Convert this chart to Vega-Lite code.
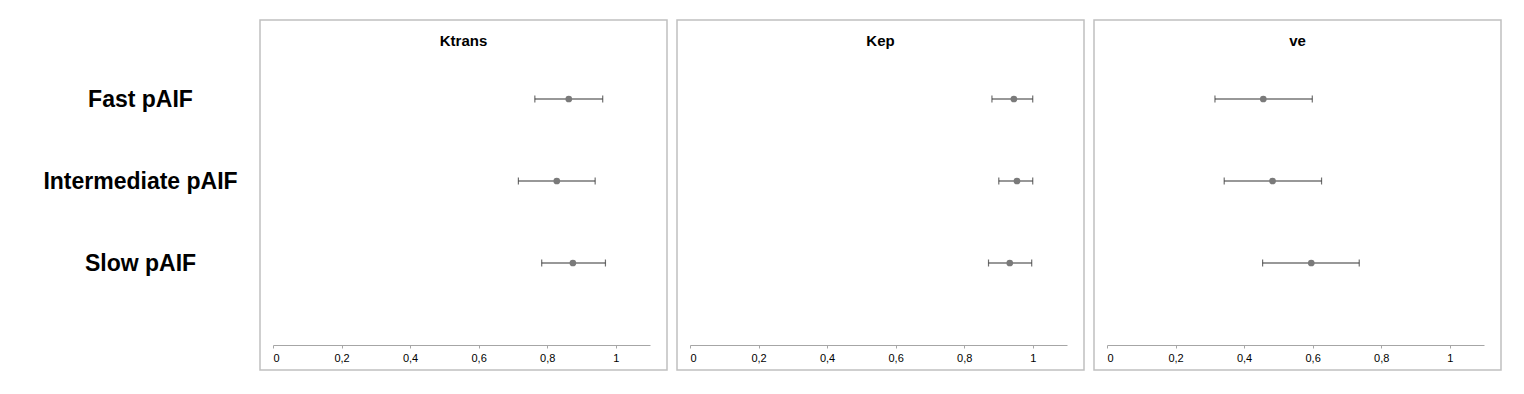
{
  "$schema": "https://vega.github.io/schema/vega-lite/v6.json",
  "padding": {"left": 42, "top": 19, "right": 5, "bottom": 5},
  "background": "white",
  "config": {
    "view": {"stroke": "#c0c0c0", "strokeWidth": 1.5},
    "axisX": {"domainColor": "#a6a6a6", "tickColor": "#a6a6a6", "tickSize": 3, "labelPadding": 4, "labelFontSize": 11, "labelFont": "Liberation Sans", "labelColor": "black", "grid": false, "offset": -25},
    "concat": {"spacing": 8}
  },
  "data": {"values": [
    {"param": "Ktrans", "row": "Fast pAIF", "est": 0.863, "lo": 0.764, "hi": 0.962},
    {"param": "Ktrans", "row": "Intermediate pAIF", "est": 0.828, "lo": 0.716, "hi": 0.940},
    {"param": "Ktrans", "row": "Slow pAIF", "est": 0.875, "lo": 0.784, "hi": 0.970},
    {"param": "Kep", "row": "Fast pAIF", "est": 0.945, "lo": 0.881, "hi": 1.0},
    {"param": "Kep", "row": "Intermediate pAIF", "est": 0.954, "lo": 0.901, "hi": 1.0},
    {"param": "Kep", "row": "Slow pAIF", "est": 0.933, "lo": 0.871, "hi": 0.997},
    {"param": "ve", "row": "Fast pAIF", "est": 0.456, "lo": 0.315, "hi": 0.599},
    {"param": "ve", "row": "Intermediate pAIF", "est": 0.483, "lo": 0.342, "hi": 0.626},
    {"param": "ve", "row": "Slow pAIF", "est": 0.596, "lo": 0.454, "hi": 0.736}
  ]},
  "hconcat": [
    {
      "width": 407, "height": 350,
      "title": {"text": "Ktrans", "fontSize": 15, "fontWeight": "bold", "font": "Liberation Sans", "color": "black", "offset": -41, "anchor": "middle", "frame": "group", "baseline": "alphabetic"},
      "transform": [{"filter": "datum.param === 'Ktrans'"}],
      "encoding": {"y": {"field": "row", "type": "nominal", "title": null,
        "scale": {"type": "point", "domain": ["Fast pAIF", "Intermediate pAIF", "Slow pAIF"], "range": [79, 243], "padding": 0},
        "axis": {"domain": false, "ticks": false, "tickSize": 0, "labelPadding": 120, "labelAlign": "center", "labelFontSize": 23, "labelFontWeight": "bold", "labelColor": "black", "labelFont": "Liberation Sans", "labelLimit": 400, "grid": false}}},
      "layer": [
        {"mark": {"type": "rule", "color": "#333333", "strokeWidth": 1.2},
         "encoding": {"x": {"field": "lo", "type": "quantitative", "title": null, "scale": {"domain": [0, 1.1], "range": [13, 390], "nice": false, "zero": false}, "axis": {"values": [0, 0.2, 0.4, 0.6, 0.8, 1], "format": "~g", "labelExpr": "replace(datum.label, '.', ',')"}}, "x2": {"field": "hi"}}},
        {"mark": {"type": "tick", "color": "#333333", "size": 7, "thickness": 1.2},
         "encoding": {"x": {"field": "lo", "type": "quantitative", "title": null, "scale": {"domain": [0, 1.1], "range": [13, 390], "nice": false, "zero": false}, "axis": {"values": [0, 0.2, 0.4, 0.6, 0.8, 1], "format": "~g", "labelExpr": "replace(datum.label, '.', ',')"}}}},
        {"mark": {"type": "tick", "color": "#333333", "size": 7, "thickness": 1.2},
         "encoding": {"x": {"field": "hi", "type": "quantitative", "title": null, "scale": {"domain": [0, 1.1], "range": [13, 390], "nice": false, "zero": false}, "axis": {"values": [0, 0.2, 0.4, 0.6, 0.8, 1], "format": "~g", "labelExpr": "replace(datum.label, '.', ',')"}}}},
        {"mark": {"type": "point", "filled": true, "color": "#7a7a7a", "size": 45, "opacity": 1},
         "encoding": {"x": {"field": "est", "type": "quantitative", "title": null, "scale": {"domain": [0, 1.1], "range": [13, 390], "nice": false, "zero": false}, "axis": {"values": [0, 0.2, 0.4, 0.6, 0.8, 1], "format": "~g", "labelExpr": "replace(datum.label, '.', ',')"}}}}
      ]
    },
    {
      "width": 407, "height": 350,
      "title": {"text": "Kep", "fontSize": 15, "fontWeight": "bold", "font": "Liberation Sans", "color": "black", "offset": -41, "anchor": "middle", "frame": "group", "baseline": "alphabetic"},
      "transform": [{"filter": "datum.param === 'Kep'"}],
      "encoding": {"y": {"field": "row", "type": "nominal", "title": null,
        "scale": {"type": "point", "domain": ["Fast pAIF", "Intermediate pAIF", "Slow pAIF"], "range": [79, 243], "padding": 0},
        "axis": null}},
      "layer": [
        {"mark": {"type": "rule", "color": "#333333", "strokeWidth": 1.2},
         "encoding": {"x": {"field": "lo", "type": "quantitative", "title": null, "scale": {"domain": [0, 1.1], "range": [13, 390], "nice": false, "zero": false}, "axis": {"values": [0, 0.2, 0.4, 0.6, 0.8, 1], "format": "~g", "labelExpr": "replace(datum.label, '.', ',')"}}, "x2": {"field": "hi"}}},
        {"mark": {"type": "tick", "color": "#333333", "size": 7, "thickness": 1.2},
         "encoding": {"x": {"field": "lo", "type": "quantitative", "title": null, "scale": {"domain": [0, 1.1], "range": [13, 390], "nice": false, "zero": false}, "axis": {"values": [0, 0.2, 0.4, 0.6, 0.8, 1], "format": "~g", "labelExpr": "replace(datum.label, '.', ',')"}}}},
        {"mark": {"type": "tick", "color": "#333333", "size": 7, "thickness": 1.2},
         "encoding": {"x": {"field": "hi", "type": "quantitative", "title": null, "scale": {"domain": [0, 1.1], "range": [13, 390], "nice": false, "zero": false}, "axis": {"values": [0, 0.2, 0.4, 0.6, 0.8, 1], "format": "~g", "labelExpr": "replace(datum.label, '.', ',')"}}}},
        {"mark": {"type": "point", "filled": true, "color": "#7a7a7a", "size": 45, "opacity": 1},
         "encoding": {"x": {"field": "est", "type": "quantitative", "title": null, "scale": {"domain": [0, 1.1], "range": [13, 390], "nice": false, "zero": false}, "axis": {"values": [0, 0.2, 0.4, 0.6, 0.8, 1], "format": "~g", "labelExpr": "replace(datum.label, '.', ',')"}}}}
      ]
    },
    {
      "width": 407, "height": 350,
      "title": {"text": "ve", "fontSize": 15, "fontWeight": "bold", "font": "Liberation Sans", "color": "black", "offset": -41, "anchor": "middle", "frame": "group", "baseline": "alphabetic"},
      "transform": [{"filter": "datum.param === 've'"}],
      "encoding": {"y": {"field": "row", "type": "nominal", "title": null,
        "scale": {"type": "point", "domain": ["Fast pAIF", "Intermediate pAIF", "Slow pAIF"], "range": [79, 243], "padding": 0},
        "axis": null}},
      "layer": [
        {"mark": {"type": "rule", "color": "#333333", "strokeWidth": 1.2},
         "encoding": {"x": {"field": "lo", "type": "quantitative", "title": null, "scale": {"domain": [0, 1.1], "range": [13, 390], "nice": false, "zero": false}, "axis": {"values": [0, 0.2, 0.4, 0.6, 0.8, 1], "format": "~g", "labelExpr": "replace(datum.label, '.', ',')"}}, "x2": {"field": "hi"}}},
        {"mark": {"type": "tick", "color": "#333333", "size": 7, "thickness": 1.2},
         "encoding": {"x": {"field": "lo", "type": "quantitative", "title": null, "scale": {"domain": [0, 1.1], "range": [13, 390], "nice": false, "zero": false}, "axis": {"values": [0, 0.2, 0.4, 0.6, 0.8, 1], "format": "~g", "labelExpr": "replace(datum.label, '.', ',')"}}}},
        {"mark": {"type": "tick", "color": "#333333", "size": 7, "thickness": 1.2},
         "encoding": {"x": {"field": "hi", "type": "quantitative", "title": null, "scale": {"domain": [0, 1.1], "range": [13, 390], "nice": false, "zero": false}, "axis": {"values": [0, 0.2, 0.4, 0.6, 0.8, 1], "format": "~g", "labelExpr": "replace(datum.label, '.', ',')"}}}},
        {"mark": {"type": "point", "filled": true, "color": "#7a7a7a", "size": 45, "opacity": 1},
         "encoding": {"x": {"field": "est", "type": "quantitative", "title": null, "scale": {"domain": [0, 1.1], "range": [13, 390], "nice": false, "zero": false}, "axis": {"values": [0, 0.2, 0.4, 0.6, 0.8, 1], "format": "~g", "labelExpr": "replace(datum.label, '.', ',')"}}}}
      ]
    }
  ]
}
